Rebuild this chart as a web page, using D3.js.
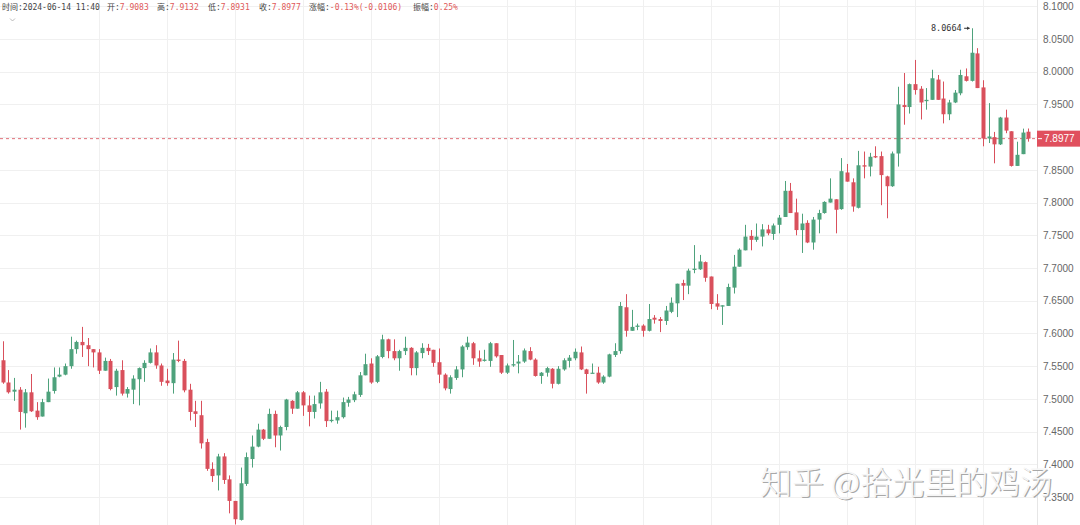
<!DOCTYPE html>
<html><head><meta charset="utf-8">
<script src="https://cdn.jsdelivr.net/npm/d3@7"></script>
<style>body{margin:0;background:#fff;overflow:hidden} svg{display:block}</style>
</head><body><svg id="c" width="1080" height="525"></svg>
<script>
const opens=[7.559,7.525,7.511,7.514,7.478,7.510,7.482,7.473,7.495,7.512,7.534,7.537,7.550,7.576,7.587,7.582,7.576,7.571,7.543,7.558,7.518,7.544,7.508,7.514,7.530,7.547,7.555,7.571,7.551,7.528,7.524,7.560,7.558,7.514,7.481,7.475,7.434,7.393,7.383,7.412,7.377,7.344,7.315,7.370,7.408,7.427,7.453,7.439,7.477,7.444,7.457,7.497,7.485,7.510,7.490,7.480,7.493,7.511,7.466,7.467,7.472,7.494,7.498,7.506,7.536,7.554,7.526,7.564,7.591,7.573,7.562,7.573,7.578,7.547,7.570,7.578,7.575,7.556,7.537,7.515,7.532,7.545,7.579,7.585,7.562,7.558,7.558,7.585,7.567,7.540,7.551,7.554,7.557,7.573,7.560,7.535,7.540,7.546,7.523,7.545,7.558,7.562,7.571,7.545,7.539,7.540,7.525,7.534,7.567,7.573,7.640,7.604,7.610,7.612,7.604,7.624,7.622,7.619,7.633,7.646,7.677,7.673,7.697,7.698,7.709,7.687,7.646,7.641,7.642,7.670,7.702,7.727,7.749,7.743,7.748,7.759,7.752,7.766,7.778,7.818,7.785,7.758,7.769,7.739,7.774,7.784,7.800,7.805,7.790,7.846,7.831,7.792,7.857,7.855,7.871,7.871,7.840,7.825,7.875,7.949,7.946,7.981,7.974,7.955,7.957,7.988,7.959,7.935,7.953,7.967,7.993,7.986,8.028,7.976,7.898,7.900,7.889,7.930,7.909,7.856,7.874,7.9083];
const highs=[7.588,7.544,7.532,7.518,7.515,7.538,7.495,7.500,7.531,7.548,7.548,7.554,7.595,7.589,7.610,7.593,7.576,7.576,7.563,7.561,7.546,7.559,7.518,7.536,7.548,7.559,7.577,7.582,7.554,7.546,7.570,7.589,7.561,7.523,7.497,7.497,7.439,7.403,7.416,7.417,7.383,7.344,7.395,7.418,7.444,7.462,7.454,7.485,7.482,7.459,7.500,7.498,7.512,7.512,7.505,7.505,7.526,7.515,7.482,7.482,7.502,7.503,7.511,7.541,7.569,7.562,7.567,7.598,7.592,7.591,7.575,7.595,7.579,7.573,7.585,7.584,7.575,7.577,7.539,7.536,7.550,7.582,7.595,7.587,7.574,7.575,7.587,7.585,7.567,7.554,7.590,7.567,7.577,7.579,7.562,7.541,7.549,7.547,7.550,7.562,7.567,7.577,7.580,7.546,7.554,7.549,7.536,7.569,7.585,7.648,7.660,7.636,7.615,7.614,7.645,7.628,7.625,7.642,7.655,7.676,7.682,7.699,7.735,7.720,7.710,7.687,7.660,7.643,7.676,7.720,7.730,7.766,7.758,7.768,7.767,7.766,7.768,7.781,7.833,7.830,7.806,7.783,7.773,7.778,7.789,7.802,7.837,7.805,7.868,7.859,7.837,7.879,7.878,7.876,7.886,7.878,7.841,7.878,7.977,7.998,7.982,8.018,7.978,7.975,8.003,7.995,7.985,7.957,7.972,8.003,8.005,8.0664,8.036,7.987,7.952,7.908,7.931,7.942,7.909,7.893,7.913,7.9132];
const lows=[7.523,7.508,7.497,7.453,7.456,7.480,7.468,7.473,7.495,7.508,7.533,7.536,7.546,7.569,7.564,7.550,7.548,7.538,7.543,7.513,7.505,7.505,7.502,7.492,7.490,7.526,7.554,7.546,7.520,7.520,7.508,7.556,7.510,7.467,7.457,7.424,7.390,7.373,7.360,7.370,7.325,7.308,7.314,7.367,7.395,7.426,7.437,7.439,7.426,7.421,7.452,7.477,7.485,7.474,7.458,7.470,7.485,7.457,7.464,7.462,7.470,7.488,7.495,7.503,7.536,7.523,7.524,7.562,7.562,7.559,7.543,7.567,7.536,7.536,7.562,7.567,7.549,7.524,7.513,7.508,7.529,7.533,7.575,7.552,7.549,7.557,7.549,7.563,7.538,7.538,7.549,7.539,7.555,7.559,7.534,7.523,7.534,7.516,7.522,7.543,7.548,7.559,7.544,7.508,7.539,7.523,7.523,7.533,7.564,7.569,7.595,7.604,7.605,7.595,7.603,7.615,7.602,7.613,7.631,7.625,7.651,7.660,7.692,7.697,7.679,7.637,7.636,7.613,7.642,7.661,7.702,7.727,7.727,7.740,7.733,7.750,7.743,7.753,7.778,7.784,7.750,7.723,7.738,7.728,7.753,7.783,7.800,7.753,7.789,7.832,7.786,7.791,7.837,7.840,7.868,7.796,7.776,7.824,7.855,7.919,7.936,7.965,7.927,7.942,7.957,7.957,7.921,7.926,7.952,7.964,7.985,7.985,7.975,7.886,7.891,7.860,7.888,7.906,7.855,7.856,7.874,7.8931];
const closes=[7.525,7.510,7.514,7.480,7.510,7.481,7.472,7.495,7.511,7.533,7.537,7.550,7.576,7.587,7.582,7.576,7.571,7.543,7.558,7.515,7.543,7.508,7.515,7.531,7.547,7.555,7.571,7.551,7.526,7.524,7.560,7.558,7.513,7.480,7.477,7.432,7.393,7.382,7.412,7.376,7.344,7.316,7.371,7.411,7.427,7.453,7.439,7.477,7.444,7.457,7.499,7.485,7.510,7.490,7.480,7.492,7.510,7.466,7.468,7.472,7.495,7.499,7.507,7.536,7.553,7.525,7.565,7.591,7.573,7.562,7.573,7.578,7.547,7.571,7.578,7.573,7.555,7.537,7.516,7.533,7.545,7.580,7.586,7.562,7.557,7.560,7.585,7.565,7.540,7.551,7.553,7.557,7.574,7.560,7.535,7.540,7.547,7.523,7.546,7.559,7.563,7.572,7.545,7.538,7.540,7.525,7.534,7.568,7.573,7.642,7.604,7.610,7.612,7.604,7.622,7.621,7.619,7.635,7.647,7.676,7.673,7.696,7.699,7.710,7.685,7.645,7.641,7.643,7.671,7.702,7.728,7.748,7.743,7.748,7.759,7.753,7.765,7.777,7.818,7.784,7.758,7.768,7.739,7.774,7.784,7.801,7.806,7.789,7.848,7.832,7.794,7.857,7.855,7.870,7.869,7.842,7.825,7.875,7.950,7.946,7.981,7.972,7.953,7.957,7.990,7.957,7.935,7.953,7.968,7.995,7.986,8.029,7.975,7.898,7.901,7.889,7.930,7.910,7.856,7.873,7.907,7.8977];
const tickValues=[7.35,7.40,7.45,7.50,7.55,7.60,7.65,7.70,7.75,7.80,7.85,7.90,7.95,8.00,8.05,8.10];
const lastPrice=7.8977;
const peakValue=8.0664;
const headerLabels=["时间:","开:","高:","低:","收:","涨幅:","振幅:"];
const headerValues=["2024-06-14 11:40","7.9083","7.9132","7.8931","7.8977","-0.13%(-0.0106)","0.25%"];
const watermark="知乎 @拾光里的鸡汤";

const UP="#4ea27c", DOWN="#d9505c";
const svg=d3.select("#c");
const n=opens.length;
const plotRight=1037;
const x=d3.scaleLinear().domain([0,n-1]).range([2.7,1028.3]);
const y=d3.scaleLinear().domain([7.35,8.05]).range([497,39]);

// grid
const g=svg.append("g");
g.selectAll("line.h").data(tickValues).join("line")
  .attr("x1",0).attr("x2",plotRight)
  .attr("y1",d=>Math.round(y(d))+0.5).attr("y2",d=>Math.round(y(d))+0.5)
  .attr("stroke","#f0f0f0");
const vIdx=d3.range(17,n,12);
g.selectAll("line.v").data(vIdx).join("line")
  .attr("y1",0).attr("y2",525)
  .attr("x1",d=>Math.round(x(d))+0.5).attr("x2",d=>Math.round(x(d))+0.5)
  .attr("stroke","#f0f0f0");
svg.append("line").attr("x1",plotRight+0.5).attr("x2",plotRight+0.5).attr("y1",0).attr("y2",525).attr("stroke","#e6e6e6");

// axis
const axis=d3.axisRight(y).tickValues(tickValues).tickFormat(d3.format(".4f")).tickSize(0).tickPadding(0);
const ag=svg.append("g").attr("transform",`translate(1043,0)`).call(axis);
ag.select(".domain").remove();
ag.selectAll("text").attr("fill","#666").attr("font-size","10px").attr("font-family","Liberation Sans, Arial, sans-serif").attr("x",0);

// watermark
const wm=svg.append("g").attr("font-family","Noto Sans CJK SC").attr("font-size","32px").attr("font-weight",300);
wm.append("text").attr("x",761.2).attr("y",495.2).attr("fill","#a8a8a8").text(watermark);
wm.append("text").attr("x",760).attr("y",494).attr("fill","#f6f6f6").text(watermark);

// last price dashed line
svg.append("line").attr("x1",0).attr("x2",plotRight).attr("y1",y(lastPrice)).attr("y2",y(lastPrice))
  .attr("stroke","#e0707a").attr("stroke-dasharray","3,3").attr("stroke-width",1);

// candles
const cg=svg.append("g");
const idx=d3.range(n);
cg.selectAll("line.w").data(idx).join("line")
  .attr("x1",i=>Math.round(x(i))+0.5).attr("x2",i=>Math.round(x(i))+0.5)
  .attr("y1",i=>y(highs[i])).attr("y2",i=>y(lows[i]))
  .attr("stroke",i=>closes[i]>=opens[i]?UP:DOWN).attr("stroke-width",1);
cg.selectAll("rect").data(idx).join("rect")
  .attr("x",i=>Math.round(x(i))-1.5).attr("width",4)
  .attr("y",i=>y(Math.max(opens[i],closes[i])))
  .attr("height",i=>Math.max(1.2,Math.abs(y(opens[i])-y(closes[i]))))
  .attr("fill",i=>closes[i]>=opens[i]?UP:DOWN);

// price label
const ly=y(lastPrice);
svg.append("rect").attr("x",plotRight).attr("y",ly-8).attr("width",43).attr("height",16).attr("fill","#e0505e");
svg.append("line").attr("x1",plotRight+1).attr("x2",plotRight+5).attr("y1",ly).attr("y2",ly).attr("stroke","#fff");
svg.append("text").attr("x",1044).attr("y",ly).attr("dy","0.35em").attr("fill","#fff").attr("font-size","10px")
  .attr("font-family","Liberation Sans, Arial, sans-serif").text(d3.format(".4f")(lastPrice));

// peak annotation
const pk=highs.indexOf(peakValue);
const py=y(peakValue);
svg.append("text").attr("x",x(pk)-10).attr("y",py).attr("dy","0.35em").attr("text-anchor","end")
  .attr("font-family","DejaVu Sans Mono, monospace").attr("font-size","8.5px").attr("fill","#333").text(d3.format(".4f")(peakValue));
svg.append("line").attr("x1",x(pk)-7.5).attr("x2",x(pk)-2).attr("y1",py).attr("y2",py).attr("stroke","#333");
svg.append("path").attr("d",`M${x(pk)-2},${py} l-2.5,-1.8 l0,3.6 z`).attr("fill","#333");

// header
const hx=[2,107,157,208,259,309,413];
const hg=svg.append("g").attr("font-family","DejaVu Sans Mono, Noto Sans CJK SC, monospace").attr("font-size","8px");
headerLabels.forEach((lab,k)=>{
  const t=hg.append("text").attr("x",hx[k]).attr("y",10);
  t.append("tspan").attr("fill","#444").text(lab);
  t.append("tspan").attr("fill",k===0?"#444":"#e05a5a").text(headerValues[k]);
});
// collapse chevron
svg.append("path").attr("d","M10,18.5 L12.5,21 L15,18.5").attr("fill","none").attr("stroke","#aaa").attr("stroke-width",0.8);
svg.append("path").attr("d","M1058,5 L1061,2 L1064,5").attr("fill","none").attr("stroke","#888").attr("stroke-width",0.8);
</script></body></html>
